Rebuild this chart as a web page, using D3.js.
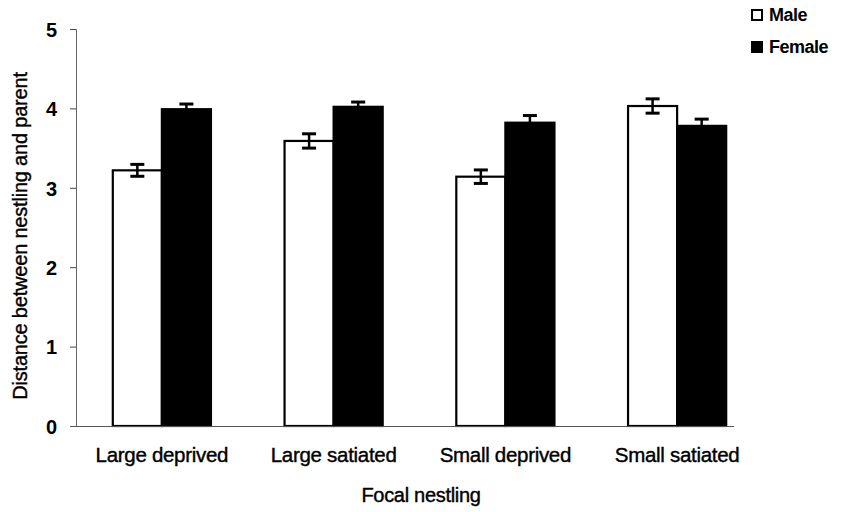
<!DOCTYPE html>
<html><head><meta charset="utf-8">
<script src="https://cdn.jsdelivr.net/npm/d3@7"></script>
<style>body{margin:0;background:#fff}svg text{font-family:"Liberation Sans",Arial,sans-serif;fill:#000}</style>
</head><body><svg id="c" width="841" height="512"></svg>
<script>
const categories = ["Large deprived","Large satiated","Small deprived","Small satiated"];
const series = ["Male","Female"];
const maleValues = [3.22, 3.59, 3.14, 4.03];
const maleErrors = [0.075, 0.09, 0.085, 0.09];
const femaleValues = [3.99, 4.02, 3.82, 3.78];
const femaleErrors = [0.065, 0.06, 0.09, 0.085];
const yTicks = [0,1,2,3,4,5];

const svg = d3.select("#c");
const x0 = d3.scaleBand().domain(categories).range([76,763]).padding(0);
const x1 = d3.scaleBand().domain(series).range([0,x0.bandwidth()]).paddingInner(0).paddingOuter(0.75);
const y = d3.scaleLinear().domain([0,5]).range([426,29]);
const data = categories.map((c,i)=>({c, vals:[
  {s:"Male", v:maleValues[i], e:maleErrors[i]},
  {s:"Female", v:femaleValues[i], e:femaleErrors[i]}]}));

// y axis
const yAxis = d3.axisLeft(y).tickValues(yTicks).tickSize(6).tickPadding(13).tickFormat(d3.format("d"));
const gy = svg.append("g").attr("transform","translate(76,0)").call(yAxis);
gy.select(".domain").attr("stroke","#666").attr("stroke-width",1);
gy.selectAll(".tick line").attr("stroke","#444");
gy.selectAll(".tick text").attr("font-size",20).attr("font-weight","bold").attr("dy","0.36em");

// bars
const g = svg.append("g");
data.forEach(d=>{
  const gg = g.append("g").attr("transform",`translate(${x0(d.c)},0)`);
  gg.selectAll("rect").data(d.vals).join("rect")
    .attr("x",v=>x1(v.s)).attr("width",x1.bandwidth())
    .attr("y",v=>y(v.v)).attr("height",v=>y(0)-y(v.v))
    .attr("fill",v=>v.s==="Male"?"#fff":"#000")
    .attr("stroke","#000").attr("stroke-width",2.2);
  d.vals.forEach(v=>{
    const cx = x1(v.s)+x1.bandwidth()/2;
    gg.append("line").attr("x1",cx).attr("x2",cx).attr("y1",y(v.v+v.e)).attr("y2",y(v.v-v.e)).attr("stroke","#000").attr("stroke-width",2.5);
    [v.v+v.e, v.v-v.e].forEach(t=>{
      gg.append("line").attr("x1",cx-7).attr("x2",cx+7).attr("y1",y(t)).attr("y2",y(t)).attr("stroke","#000").attr("stroke-width",3);
    });
  });
});

// x axis
const xAxis = d3.axisBottom(x0).tickSize(0).tickPadding(21);
const gx = svg.append("g").attr("transform",`translate(0,${y(0)})`).call(xAxis);
gx.select(".domain").remove();
svg.append("line").attr("x1",70).attr("x2",734).attr("y1",y(0)+0.5).attr("y2",y(0)+0.5).attr("stroke","#555").attr("stroke-width",1.2);
gx.selectAll(".tick text").attr("font-size",20.5).attr("dy","0.72em").attr("stroke","#000").attr("stroke-width",0.4).attr("letter-spacing",-0.3);

// axis titles
svg.append("text").attr("x",421).attr("y",502).attr("text-anchor","middle").attr("font-size",20).attr("stroke","#000").attr("stroke-width",0.4).attr("letter-spacing",-0.3).text("Focal nestling");
svg.append("text").attr("transform","translate(27,236) rotate(-90)").attr("text-anchor","middle").attr("font-size",20).attr("stroke","#000").attr("stroke-width",0.4).attr("letter-spacing",-0.2).text("Distance between nestling and parent");

// legend
const lg = svg.append("g");
series.forEach((s,i)=>{
  const yy = 15 + i*32;
  lg.append("rect").attr("x",752).attr("y",yy-5).attr("width",10).attr("height",10)
    .attr("fill",s==="Male"?"#fff":"#000").attr("stroke","#000").attr("stroke-width",2);
  lg.append("text").attr("x",769).attr("y",yy).attr("dy","0.35em").attr("font-size",18).attr("font-weight","bold").attr("letter-spacing",-0.5).text(s);
});
</script></body></html>
